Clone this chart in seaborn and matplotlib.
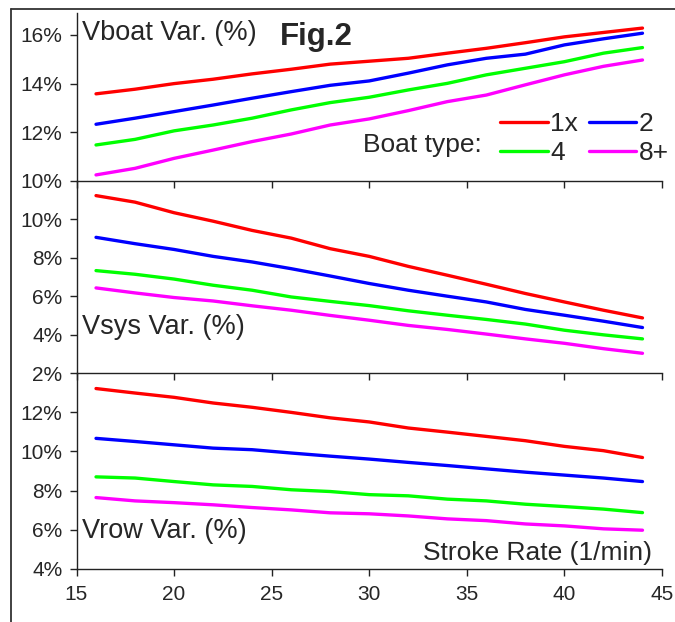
import pandas as pd
import seaborn as sns
import matplotlib.pyplot as plt
from matplotlib.lines import Line2D
from matplotlib.ticker import FuncFormatter

# values (percent), stroke rate every 2 strokes/min
stroke_rate = [16, 18, 20, 22, 24, 26, 28, 30, 32, 34, 36, 38, 40, 42, 44]
boat_types = ['1x', '2', '4', '8+']
colors = ['#FF0000', '#0000FF', '#00FF00', '#FF00FF']

vboat_1x = [13.58, 13.77, 14.00, 14.18, 14.40, 14.59, 14.80, 14.92, 15.04, 15.25, 15.45, 15.68, 15.92, 16.10, 16.28]
vboat_2 = [12.33, 12.58, 12.85, 13.12, 13.40, 13.67, 13.93, 14.11, 14.43, 14.77, 15.04, 15.21, 15.59, 15.84, 16.07]
vboat_4 = [11.48, 11.71, 12.06, 12.30, 12.58, 12.92, 13.22, 13.44, 13.74, 14.01, 14.36, 14.63, 14.90, 15.25, 15.48]
vboat_8 = [10.25, 10.52, 10.93, 11.27, 11.62, 11.93, 12.30, 12.55, 12.89, 13.26, 13.53, 13.95, 14.36, 14.71, 14.97]

vsys_1x = [11.24, 10.90, 10.35, 9.91, 9.43, 9.03, 8.48, 8.08, 7.56, 7.10, 6.63, 6.15, 5.71, 5.28, 4.88]
vsys_2 = [9.07, 8.74, 8.44, 8.08, 7.79, 7.44, 7.06, 6.67, 6.32, 6.01, 5.71, 5.32, 5.02, 4.71, 4.38]
vsys_4 = [7.34, 7.15, 6.90, 6.58, 6.32, 5.97, 5.74, 5.52, 5.25, 5.02, 4.80, 4.56, 4.24, 4.00, 3.79]
vsys_8 = [6.44, 6.18, 5.94, 5.76, 5.51, 5.28, 5.01, 4.76, 4.49, 4.28, 4.04, 3.79, 3.56, 3.28, 3.04]

vrow_1x = [13.22, 12.99, 12.77, 12.48, 12.26, 12.00, 11.72, 11.51, 11.20, 10.99, 10.77, 10.55, 10.26, 10.04, 9.69]
vrow_2 = [10.67, 10.51, 10.34, 10.17, 10.09, 9.92, 9.76, 9.61, 9.44, 9.28, 9.11, 8.94, 8.79, 8.64, 8.46]
vrow_4 = [8.70, 8.64, 8.46, 8.29, 8.21, 8.04, 7.95, 7.79, 7.73, 7.56, 7.47, 7.30, 7.18, 7.05, 6.87]
vrow_8 = [7.64, 7.47, 7.38, 7.27, 7.13, 7.01, 6.86, 6.81, 6.70, 6.55, 6.46, 6.29, 6.19, 6.04, 5.97]


def long_df(series):
    rows = []
    for boat, vals in zip(boat_types, series):
        for x, v in zip(stroke_rate, vals):
            rows.append({'rate': x, 'var': v, 'boat': boat})
    return pd.DataFrame(rows)


sns.set_style('white')
plt.rcParams['font.family'] = ['Liberation Sans', 'DejaVu Sans']

W, H = 675, 622
fig = plt.figure(figsize=(W / 100, H / 100), dpi=100)


def fy(py):
    return 1 - py / H


left, right = 76.5 / W, 662 / W
panels = [
    (13, 181, [vboat_1x, vboat_2, vboat_4, vboat_8], (10, 16.9), [10, 12, 14, 16]),
    (181, 373.3, [vsys_1x, vsys_2, vsys_4, vsys_8], (2, 12), [2, 4, 6, 8, 10]),
    (373.3, 568.7, [vrow_1x, vrow_2, vrow_4, vrow_8], (4, 14), [4, 6, 8, 10, 12]),
]
palette = dict(zip(boat_types, colors))
axes = []
for i, (top, bot, series, ylim, yticks) in enumerate(panels):
    ax = fig.add_axes([left, fy(bot), right - left, fy(top) - fy(bot)])
    sns.lineplot(data=long_df(series), x='rate', y='var', hue='boat',
                 hue_order=boat_types, palette=palette, linewidth=2.4,
                 legend=False, ax=ax)
    ax.set_xlim(15, 45)
    ax.set_xticks(range(15, 46, 5))
    ax.set_ylim(*ylim)
    ax.set_yticks(yticks)
    ax.yaxis.set_major_formatter(FuncFormatter(lambda v, p: f'{v:.0f}%'))
    ax.set_xlabel('')
    ax.set_ylabel('')
    ax.patch.set_alpha(0)
    for s in ['top', 'right']:
        ax.spines[s].set_visible(False)
    for s in ['left', 'bottom']:
        ax.spines[s].set_color('#222222')
        ax.spines[s].set_linewidth(1.0)
    ax.tick_params(axis='both', direction='out', length=5, width=1.0,
                   color='#222222', labelsize=15, left=True, bottom=True)
    ax.tick_params(axis='y', pad=5)
    ax.tick_params(axis='x', pad=7)
    if i < 2:
        ax.tick_params(labelbottom=False)
    axes.append(ax)

ax_top, ax_mid, ax_bot = axes

# outer chart-area frame (only left and top edges inside the picture)
fig.add_artist(Line2D([11 / W, 11 / W], [0, fy(9)], transform=fig.transFigure,
                      color='#333333', lw=1.3))
fig.add_artist(Line2D([11 / W, 1], [fy(9), fy(9)], transform=fig.transFigure,
                      color='#333333', lw=1.3))

fig.text(82 / W, fy(40), 'Vboat Var. (%)', fontsize=19.5, va='baseline')
fig.text(280 / W, fy(45), 'Fig.2', fontsize=22.5, fontweight='bold', va='baseline')
fig.text(82 / W, fy(334), 'Vsys Var. (%)', fontsize=19.5, va='baseline')
fig.text(82 / W, fy(538), 'Vrow Var. (%)', fontsize=19.5, va='baseline')
fig.text(652 / W, fy(560), 'Stroke Rate (1/min)', fontsize=19, ha='right', va='baseline')
fig.text(363 / W, fy(152), 'Boat type:', fontsize=19, va='baseline')

handles = [Line2D([], [], color=c, lw=2.4) for c in colors]
order = [0, 2, 1, 3]
ax_top.legend([handles[k] for k in order], [boat_types[k] for k in order],
              ncol=2, frameon=False, fontsize=19, loc='upper left',
              bbox_to_anchor=(500 / W, fy(112)), bbox_transform=fig.transFigure,
              borderpad=0, borderaxespad=0, handlelength=1.8,
              handletextpad=0.1, columnspacing=0.4, labelspacing=0.2)

fig.savefig('out.png', dpi=100)
